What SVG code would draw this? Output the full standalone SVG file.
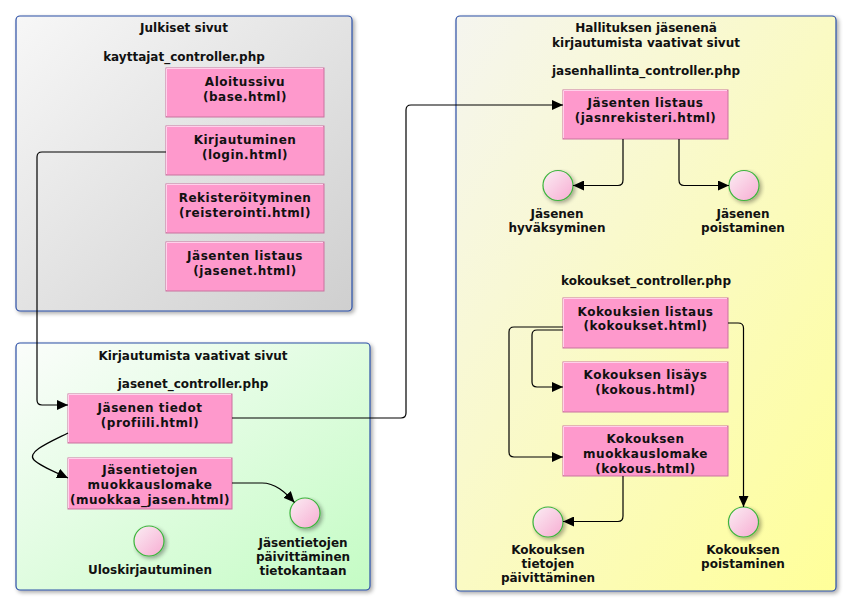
<svg xmlns="http://www.w3.org/2000/svg" width="852" height="606" viewBox="0 0 852 606">
<defs>
<linearGradient id="gGray" x1="0" y1="0" x2="1" y2="1"><stop offset="0" stop-color="#f7f7f7"/><stop offset="1" stop-color="#cfcfcf"/></linearGradient>
<linearGradient id="gGreen" x1="0" y1="0" x2="1" y2="1"><stop offset="0" stop-color="#fbfdfb"/><stop offset="1" stop-color="#c4fcc4"/></linearGradient>
<linearGradient id="gYellow" x1="0" y1="0" x2="1" y2="1"><stop offset="0" stop-color="#f5f5ef"/><stop offset="1" stop-color="#ffff99"/></linearGradient>
<linearGradient id="gCircle" x1="0" y1="0" x2="1" y2="1"><stop offset="0" stop-color="#fbeef4"/><stop offset="1" stop-color="#f7acd2"/></linearGradient>
<filter id="shadow" x="-10%" y="-10%" width="130%" height="130%"><feGaussianBlur in="SourceAlpha" stdDeviation="2"/><feOffset dx="2" dy="2"/><feComponentTransfer><feFuncA type="linear" slope="0.35"/></feComponentTransfer><feMerge><feMergeNode/><feMergeNode in="SourceGraphic"/></feMerge></filter>
<marker id="arr" markerUnits="userSpaceOnUse" markerWidth="12" markerHeight="10" refX="11" refY="5" orient="auto"><path d="M0,0 L11,5 L0,10 Z" fill="#000"/></marker>
</defs>
<style>
.panel{stroke:#2b4fa6;stroke-width:1.2;filter:url(#shadow)}
.box{fill:#fe99cc;stroke:#c9739f;stroke-width:1}
.hl{fill:none;stroke:#ffd0ea;stroke-width:1}
.circ{fill:url(#gCircle);stroke:#3cb43c;stroke-width:1.2;filter:url(#shadow)}
text{font-family:"DejaVu Sans",sans-serif;font-weight:bold;font-size:12px;fill:#111;text-anchor:middle}
.bt{letter-spacing:0.5px}
.con{fill:none;stroke:#000;stroke-width:1.2}
.arr{marker-end:url(#arr)}
</style>

<g id="panel-julkiset">
<rect class="panel" x="16" y="16" width="336" height="295" rx="4" fill="url(#gGray)"/>
<text x="184" y="31.5">Julkiset sivut</text>
<text x="184" y="60.5">kayttajat_controller.php</text>
</g>
<g id="node-aloitussivu">
<rect class="box" x="166" y="68" width="158" height="49"/><path class="hl" d="M166.5,116 V68.5 H323"/>
<text class="bt" x="245" y="85.5">Aloitussivu</text><text class="bt" x="245" y="101">(base.html)</text>
</g>
<g id="node-kirjautuminen">
<rect class="box" x="166" y="126" width="158" height="49"/><path class="hl" d="M166.5,174 V126.5 H323"/>
<text class="bt" x="245" y="143.5">Kirjautuminen</text><text class="bt" x="245" y="159">(login.html)</text>
</g>
<g id="node-rekisteroityminen">
<rect class="box" x="166" y="184" width="158" height="49"/><path class="hl" d="M166.5,232 V184.5 H323"/>
<text class="bt" x="245" y="201.5">Rekisteröityminen</text><text class="bt" x="245" y="217">(reisterointi.html)</text>
</g>
<g id="node-jasenet">
<rect class="box" x="166" y="242" width="158" height="49"/><path class="hl" d="M166.5,290 V242.5 H323"/>
<text class="bt" x="245" y="259.5">Jäsenten listaus</text><text class="bt" x="245" y="275">(jasenet.html)</text>
</g>

<g id="panel-kirjautumista">
<rect class="panel" x="16" y="343" width="354" height="247" rx="4" fill="url(#gGreen)"/>
<text x="193" y="359.5">Kirjautumista vaativat sivut</text>
<text x="193" y="387.5">jasenet_controller.php</text>
</g>
<g id="node-profiili">
<rect class="box" x="68" y="394" width="164" height="49"/><path class="hl" d="M68.5,442 V394.5 H231"/>
<text class="bt" x="150" y="411.5">Jäsenen tiedot</text><text class="bt" x="150" y="426.5">(profiili.html)</text>
</g>
<g id="node-muokkaa-jasen">
<rect class="box" x="68" y="458" width="164" height="51"/><path class="hl" d="M68.5,508 V458.5 H231"/>
<text class="bt" x="150" y="473.5">Jäsentietojen</text><text class="bt" x="150" y="488.5">muokkauslomake</text><text class="bt" x="150" y="503.5">(muokkaa_jasen.html)</text>
</g>
<g id="node-uloskirjautuminen">
<circle class="circ" cx="149" cy="541" r="15"/>
<text x="150" y="573.5">Uloskirjautuminen</text>
</g>
<g id="node-jasen-paivitys">
<circle class="circ" cx="305" cy="513" r="15"/>
<text x="303" y="546.5">Jäsentietojen</text><text x="303" y="560.5">päivittäminen</text><text x="303" y="574.5">tietokantaan</text>
</g>

<g id="panel-hallitus">
<rect class="panel" x="456" y="16" width="380" height="575" rx="4" fill="url(#gYellow)"/>
<text x="646" y="31.5">Hallituksen jäsenenä</text>
<text x="646" y="46.5">kirjautumista vaativat sivut</text>
<text x="646" y="74.5">jasenhallinta_controller.php</text>
<text x="646" y="284.5">kokoukset_controller.php</text>
</g>
<g id="node-jasnrekisteri">
<rect class="box" x="563" y="90" width="165" height="49"/><path class="hl" d="M563.5,138 V90.5 H727"/>
<text class="bt" x="645.5" y="106.5">Jäsenten listaus</text><text class="bt" x="645.5" y="121.5">(jasnrekisteri.html)</text>
</g>
<g id="node-hyvaksyminen">
<circle class="circ" cx="558" cy="185.5" r="15"/>
<text x="557" y="217.5">Jäsenen</text><text x="557" y="231.5">hyväksyminen</text>
</g>
<g id="node-poistaminen">
<circle class="circ" cx="744" cy="185.5" r="15"/>
<text x="743" y="217.5">Jäsenen</text><text x="743" y="231.5">poistaminen</text>
</g>
<g id="node-kokoukset">
<rect class="box" x="563" y="298" width="165" height="50"/><path class="hl" d="M563.5,347 V298.5 H727"/>
<text class="bt" x="645.5" y="315.5">Kokouksien listaus</text><text class="bt" x="645.5" y="330">(kokoukset.html)</text>
</g>
<g id="node-kokous-lisays">
<rect class="box" x="563" y="362" width="165" height="50"/><path class="hl" d="M563.5,411 V362.5 H727"/>
<text class="bt" x="645.5" y="378.5">Kokouksen lisäys</text><text class="bt" x="645.5" y="393.5">(kokous.html)</text>
</g>
<g id="node-kokous-muokkaus">
<rect class="box" x="563" y="426" width="165" height="50"/><path class="hl" d="M563.5,475 V426.5 H727"/>
<text class="bt" x="645.5" y="442.5">Kokouksen</text><text class="bt" x="645.5" y="457.5">muokkauslomake</text><text class="bt" x="645.5" y="472.5">(kokous.html)</text>
</g>
<g id="node-kokous-paivitys">
<circle class="circ" cx="548" cy="522" r="15"/>
<text x="548" y="553.5">Kokouksen</text><text x="548" y="567.5">tietojen</text><text x="548" y="581.5">päivittäminen</text>
</g>
<g id="node-kokous-poisto">
<circle class="circ" cx="743.5" cy="522" r="15"/>
<text x="743" y="553.5">Kokouksen</text><text x="743" y="567.5">poistaminen</text>
</g>

<g id="connectors">
<path class="con arr" d="M166,152 H42 Q37,152 37,157 V400 Q37,405 42,405 H68"/>
<path class="con arr" d="M68,433 C50,442 26,452 34,460 C40,466 55,472 68,478"/>
<path class="con arr" d="M232,483 H262 C275,483 285,492 294.5,502.5"/>
<path class="con arr" d="M232,418 H401 Q406,418 406,413 V110 Q406,105 411,105 H563"/>
<path class="con arr" d="M623,139 V180 Q623,185.5 618,185.5 H573"/>
<path class="con arr" d="M679,139 V180 Q679,185.5 684,185.5 H729"/>
<path class="con arr" d="M563,327 H514 Q509,327 509,332 V452 Q509,457 514,457 H563"/>
<path class="con arr" d="M563,330 H537 Q532,330 532,335 V382 Q532,387 537,387 H563"/>
<path class="con arr" d="M728,323 H738 Q743.5,323 743.5,328 V507"/>
<path class="con arr" d="M623,476 V516 Q623,521.5 618,521.5 H563"/>
</g>
</svg>
